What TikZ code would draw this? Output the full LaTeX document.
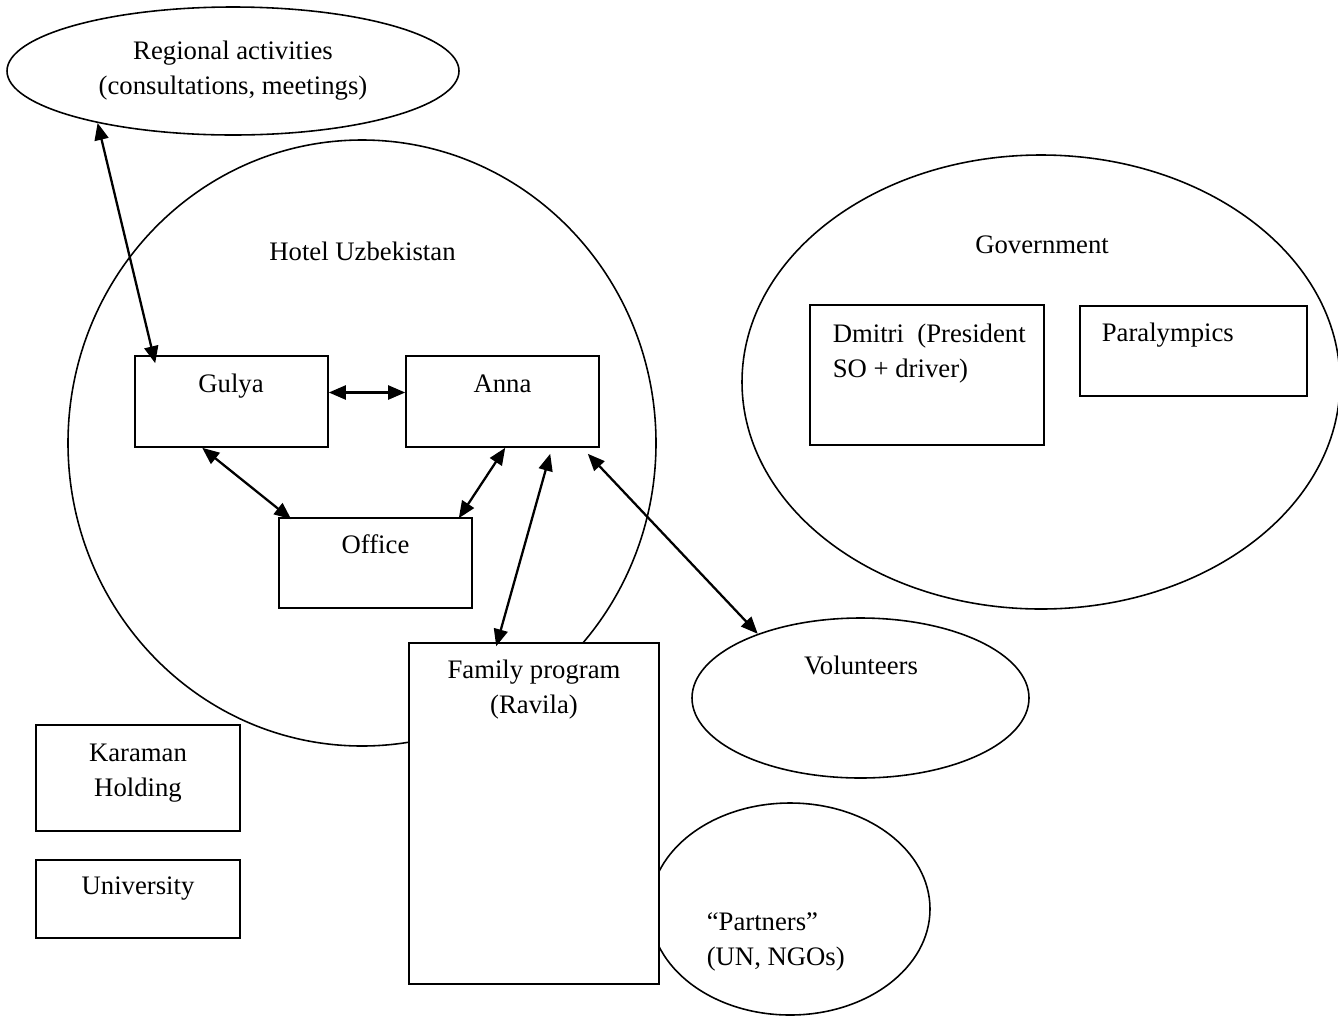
\documentclass[tikz,border=0pt]{standalone}
\usepackage{fontspec}
\setmainfont{Liberation Serif}
\usetikzlibrary{arrows.meta,shapes.geometric}

\begin{document}
\begin{tikzpicture}[font=\fontsize{15.2}{19.9}\selectfont, line width=0.9pt,
    box/.style={draw, fill=white, inner sep=0pt},
    oval/.style={draw, ellipse, inner sep=0pt},
    txt/.style={inner sep=0pt, anchor=base},
    link/.style={{Triangle[length=0.34cm,width=0.28cm]}-{Triangle[length=0.34cm,width=0.28cm]}, line width=1.3pt}]
  \useasboundingbox (0,0) rectangle (26.76,-20.34);
  % groups
  \node[oval, minimum width=9.04cm, minimum height=2.56cm, align=center] (region) at (4.66,-1.42) {Regional activities\\(consultations, meetings)};
  \node[oval, minimum width=11.76cm, minimum height=12.12cm] (hotel) at (7.24,-8.86) {};
  \node[txt] (hoteltxt) at (7.25,-5.2) {Hotel Uzbekistan};
  \node[oval, minimum width=11.96cm, minimum height=9.08cm] (gov) at (20.82,-7.64) {};
  \node[txt] (govtxt) at (20.84,-5.06) {Government};
  \node[oval, minimum width=6.74cm, minimum height=3.2cm] (vol) at (17.21,-13.96) {};
  \node[txt] (voltxt) at (17.22,-13.48) {Volunteers};
  \node[oval, minimum width=5.6cm, minimum height=4.24cm] (partners) at (15.8,-18.18) {};
  \node[txt, align=left, anchor=base west] (partnerstxt) at (14.12,-19.3) {``Partners''\\(UN, NGOs)};
  % boxes
  \node[box, minimum width=3.86cm, minimum height=1.82cm] (gulya) at (4.63,-8.03) {};
  \node[txt] (gulyatxt) at (4.62,-7.84) {Gulya};
  \node[box, minimum width=3.86cm, minimum height=1.82cm] (anna) at (10.05,-8.03) {};
  \node[txt] (annatxt) at (10.05,-7.84) {Anna};
  \node[box, minimum width=3.86cm, minimum height=1.8cm] (office) at (7.51,-11.26) {};
  \node[txt] (officetxt) at (7.51,-11.06) {Office};
  \node[box, minimum width=5.0cm, minimum height=6.82cm] (family) at (10.68,-16.27) {};
  \node[txt, align=center] (familytxt) at (10.68,-14.26) {Family program\\(Ravila)};
  \node[box, minimum width=4.08cm, minimum height=2.12cm] (karaman) at (2.76,-15.56) {};
  \node[txt, align=center] (karamantxt) at (2.76,-15.92) {Karaman\\Holding};
  \node[box, minimum width=4.08cm, minimum height=1.56cm] (univ) at (2.76,-17.98) {};
  \node[txt] (univtxt) at (2.76,-17.88) {University};
  \node[box, minimum width=4.68cm, minimum height=2.8cm] (dmitri) at (18.54,-7.5) {};
  \node[txt, align=left, anchor=base west] (dmitritxt) at (16.64,-7.54) {Dmitri\ \ (President\\SO + driver)};
  \node[box, minimum width=4.54cm, minimum height=1.8cm] (para) at (23.87,-7.02) {};
  \node[txt, anchor=base west] (paratxt) at (22.02,-6.82) {Paralympics};
  % links
  \draw[link] (region.201) -- ([xshift=0.42cm,yshift=-0.16cm]gulya.north west);
  \draw[link] ([yshift=0.18cm]gulya.east) -- ([yshift=0.18cm]anna.west);
  \draw[link] ([xshift=1.36cm]gulya.south west) -- ([xshift=0.26cm,yshift=-0.04cm]office.north west);
  \draw[link] ([xshift=2.0cm]anna.south west) -- ([xshift=-0.28cm,yshift=-0.02cm]office.north east);
  \draw[link] ([xshift=2.9cm,yshift=-0.12cm]anna.south west) -- ([xshift=1.76cm,yshift=-0.08cm]family.north west);
  \draw[link] ([xshift=-0.24cm,yshift=-0.12cm]anna.south east) -- (vol.148);
\end{tikzpicture}
\end{document}
